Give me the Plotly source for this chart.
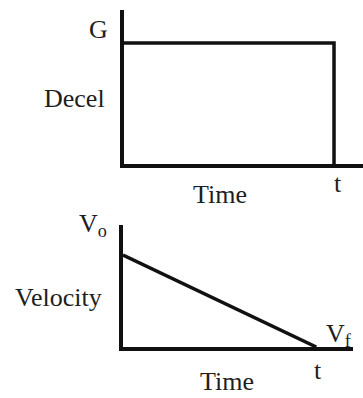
import plotly.graph_objects as go

# Top chart: deceleration vs time (square pulse)
decel_time = [0, 1, 1]
decel_vals = [1, 1, 0]
# Bottom chart: velocity vs time (linear decrease)
vel_time = [0, 1]
vel_vals = [1, 0]

W, H = 363, 398
def px(x):
    return x / W
def py(y):
    return 1 - y / H

LINE = "#111111"
TXT = "#1e1e1e"
FONT = "Liberation Serif"
FS = 26

fig = go.Figure()
fig.add_trace(go.Scatter(x=decel_time, y=decel_vals, mode="lines",
                         line=dict(color=LINE, width=3.5), xaxis="x", yaxis="y",
                         cliponaxis=False, hoverinfo="skip"))
fig.add_trace(go.Scatter(x=vel_time, y=vel_vals, mode="lines",
                         line=dict(color=LINE, width=3.5), xaxis="x2", yaxis="y2",
                         cliponaxis=False, hoverinfo="skip"))

ax_common = dict(showline=True, linecolor=LINE, linewidth=3.5, showgrid=False,
                 zeroline=False, showticklabels=False, ticks="", fixedrange=True)

fig.update_layout(
    width=W, height=H, margin=dict(l=0, r=0, t=0, b=0),
    paper_bgcolor="white", plot_bgcolor="white", showlegend=False,
    font=dict(family=FONT, color=TXT, size=FS),
    xaxis=dict(domain=[px(124), 1], range=[0, 1.138], anchor="y", **ax_common),
    yaxis=dict(domain=[py(164), py(10)], range=[0, 1.273], anchor="x", **ax_common),
    xaxis2=dict(domain=[px(123), px(353)], range=[0, 1.19], anchor="y2", **ax_common),
    yaxis2=dict(domain=[py(347), py(225)], range=[0, 1.326], anchor="x2", **ax_common),
)

labels = [
    ("G", 99, 29, "middle"),
    ("Decel", 74, 98, "middle"),
    ("t", 338, 183, "middle"),
    ("Time", 220, 195, "middle"),
    ("V<sub>o</sub>", 93, 225, "middle"),
    ("Velocity", 58, 297, "middle"),
    ("V<sub>f</sub>", 339, 335, "middle"),
    ("t", 318, 370, "middle"),
    ("Time", 227, 398, "bottom"),
]
for text, x, y, ya in labels:
    fig.add_annotation(text=text, x=px(x), y=py(y), xref="paper", yref="paper",
                       showarrow=False, xanchor="center", yanchor=ya,
                       font=dict(family=FONT, size=FS, color=TXT))

fig.write_html("out.html", config={"displayModeBar": False},
               post_script="document.body.style.margin='0';document.body.style.overflow='hidden';")
